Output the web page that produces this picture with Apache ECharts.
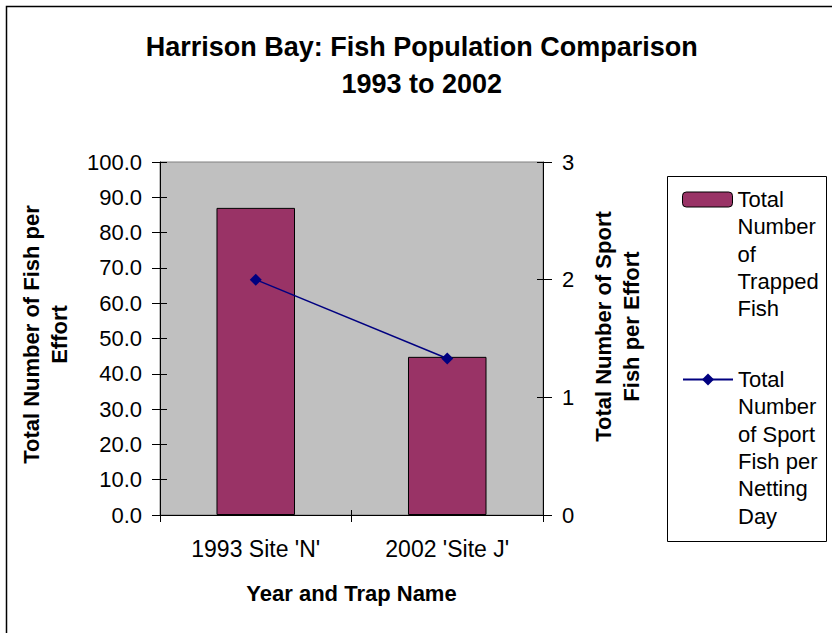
<!DOCTYPE html>
<html>
<head>
<meta charset="utf-8">
<script src="https://cdn.jsdelivr.net/npm/echarts@6/dist/echarts.min.js"></script>
<style>
  html, body { margin: 0; padding: 0; background: #fff; }
  #chart { width: 832px; height: 633px; }
</style>
</head>
<body>
<div id="chart"></div>
<script>
// ---- data ----
const categories = ["1993 Site 'N'", "2002 'Site J'"];
const trappedFish = [87.0, 44.8];      // total number of fish per effort (left axis)
const sportFish = [2.0, 1.33];         // sport fish per netting day (right axis)
const seriesNames = ['Total Number of Trapped Fish', 'Total Number of Sport Fish per Netting Day'];
const legendLines = [
  ['Total', 'Number', 'of', 'Trapped', 'Fish'],
  ['Total', 'Number', 'of Sport', 'Fish per', 'Netting', 'Day']
];
const titleLines = ['Harrison Bay: Fish Population Comparison', '1993 to 2002'];
const xAxisName = 'Year and Trap Name';
const leftAxisName = ['Total Number of Fish per', 'Effort'];
const rightAxisName = ['Total Number of Sport', 'Fish per Effort'];

// ---- styling ----
const FONT = '"Liberation Sans", Arial, Helvetica, sans-serif';
const LEGEND_LH = 27.3;
const ICON_H = 15;

// ECharts centres legend text on its icon. Leading blank lines (one fewer than
// the text lines) move the first text line level with the icon.
function legendText(lines) {
  return new Array(lines.length - 1).fill('').concat(lines).join('\n');
}
// distance from the legend box top to the icon top for that text block
function legendOffset(lines) {
  return (2 * lines.length - 1) * LEGEND_LH / 2 - ICON_H / 2;
}

const chart = echarts.init(document.getElementById('chart'), null, { renderer: 'svg' });

const labelFont = { fontFamily: FONT, fontSize: 22, color: '#000' };
const nameFont = { fontFamily: FONT, fontSize: 22, fontWeight: 'bold', color: '#000', lineHeight: 28 };

chart.setOption({
  animation: false,
  backgroundColor: '#fff',
  title: {
    text: titleLines.join('\n'),
    left: 421.7,
    top: 28.5,
    textAlign: 'center',
    padding: 0,
    textStyle: { fontFamily: FONT, fontSize: 27, fontWeight: 'bold', lineHeight: 37, color: '#000' }
  },
  graphic: [
    { type: 'polyline', silent: true, z: 0,
      shape: { points: [[6.5, 640], [6.5, 6.5], [840, 6.5]] },
      style: { fill: 'none', stroke: '#000', lineWidth: 1.5 } },
    { type: 'rect', silent: true, z: 0,
      shape: { x: 667.5, y: 176.5, width: 159, height: 365 },
      style: { fill: '#fff', stroke: '#000', lineWidth: 1 } }
  ],
  legend: [
    {
      data: [seriesNames[0]],
      selectedMode: false,
      left: 682,
      top: 192 - legendOffset(legendLines[0]),
      padding: 0,
      itemWidth: 50,
      itemHeight: ICON_H,
      itemStyle: { borderColor: '#000', borderWidth: 1 },
      formatter: () => legendText(legendLines[0]),
      textStyle: { fontFamily: FONT, fontSize: 22, color: '#000', lineHeight: LEGEND_LH }
    },
    {
      data: [seriesNames[1]],
      selectedMode: false,
      left: 682,
      top: 372 - legendOffset(legendLines[1]),
      padding: 0,
      itemWidth: 50,
      itemHeight: ICON_H,
      formatter: () => legendText(legendLines[1]),
      textStyle: { fontFamily: FONT, fontSize: 22, color: '#000', lineHeight: LEGEND_LH }
    }
  ],
  grid: {
    left: 160, right: 289, top: 162, bottom: 118,
    show: true, backgroundColor: '#C0C0C0', borderColor: '#808080', borderWidth: 1
  },
  xAxis: [
    {
      type: 'category',
      data: categories,
      position: 'bottom',
      axisLine: { show: true, lineStyle: { color: '#000', width: 1 } },
      axisTick: { show: true, length: 7, lineStyle: { color: '#000' } },
      axisLabel: Object.assign({}, labelFont, { margin: 22, fontSize: 23, lineHeight: 23 }),
      name: xAxisName,
      nameLocation: 'middle',
      nameGap: 67,
      nameTextStyle: Object.assign({}, nameFont, { lineHeight: 22 })
    },
    {
      // crossing tick marks: inner half
      type: 'category',
      data: categories,
      position: 'bottom',
      axisLine: { show: false },
      axisTick: { show: true, inside: true, length: 5, lineStyle: { color: '#000' } },
      axisLabel: { show: false }
    }
  ],
  yAxis: [
    {
      type: 'value',
      position: 'left',
      min: 0, max: 100, interval: 10,
      splitLine: { show: false },
      axisLine: { show: true, lineStyle: { color: '#000', width: 1 } },
      axisTick: { show: true, length: 8, lineStyle: { color: '#000' } },
      axisLabel: Object.assign({ margin: 18, formatter: v => v.toFixed(1) }, labelFont),
      name: leftAxisName.join('\n'),
      nameLocation: 'middle',
      nameGap: 87,
      nameTextStyle: Object.assign({}, nameFont, { padding: [0, 0, 0, 8] })
    },
    {
      type: 'value',
      position: 'right',
      min: 0, max: 3, interval: 1,
      splitLine: { show: false },
      axisLine: { show: true, lineStyle: { color: '#000', width: 1 } },
      axisTick: { show: true, length: 9, lineStyle: { color: '#000' } },
      axisLabel: Object.assign({ margin: 19 }, labelFont),
      name: rightAxisName.join('\n'),
      nameLocation: 'middle',
      nameGap: 46,
      nameTextStyle: Object.assign({}, nameFont, { padding: [0, 0, 0, 24] })
    },
    {
      type: 'value', position: 'left', min: 0, max: 100, interval: 10,
      splitLine: { show: false }, axisLine: { show: false }, axisLabel: { show: false },
      axisTick: { show: true, inside: true, length: 7, lineStyle: { color: '#000' } }
    },
    {
      type: 'value', position: 'right', min: 0, max: 3, interval: 1,
      splitLine: { show: false }, axisLine: { show: false }, axisLabel: { show: false },
      axisTick: { show: true, inside: true, length: 6, lineStyle: { color: '#000' } }
    }
  ],
  series: [
    {
      name: seriesNames[0],
      type: 'bar',
      xAxisIndex: 0,
      yAxisIndex: 0,
      data: trappedFish,
      barCategoryGap: '59%',
      itemStyle: { color: '#993366', borderColor: '#000', borderWidth: 1 },
      z: 2
    },
    {
      name: seriesNames[1],
      type: 'line',
      xAxisIndex: 0,
      yAxisIndex: 1,
      data: sportFish,
      symbol: 'diamond',
      symbolSize: 12,
      lineStyle: { color: '#000080', width: 1.5 },
      itemStyle: { color: '#000080' },
      z: 3
    }
  ]
});
</script>
</body>
</html>
